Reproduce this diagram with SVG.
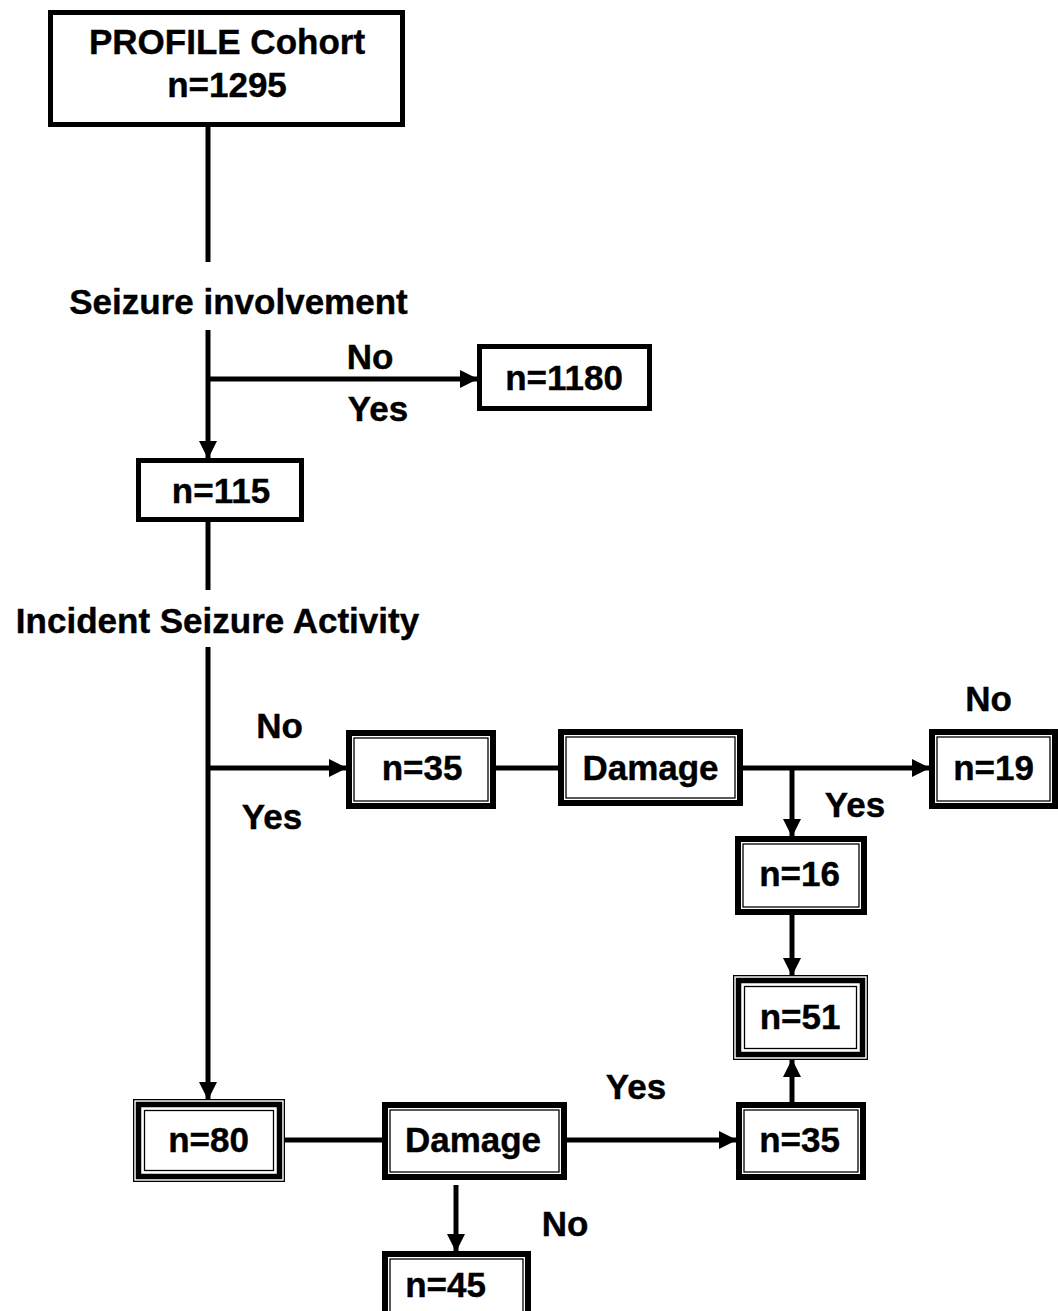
<svg xmlns="http://www.w3.org/2000/svg" width="1058" height="1311" viewBox="0 0 1058 1311">
<style>
text{font-family:"Liberation Sans",Arial,sans-serif;font-weight:bold;font-size:35px;fill:#000;text-anchor:middle;stroke:#000;stroke-width:0.4}
.s{fill:#fff;stroke:#000;stroke-width:5}
.dO{fill:#fff;stroke:#000;stroke-width:6}
.dI{fill:none;stroke:#000;stroke-width:1.3}
.tO{fill:#fff;stroke:#000;stroke-width:1.3}
.tM{fill:none;stroke:#000;stroke-width:5.5}
.ln{fill:none;stroke:#000;stroke-width:5}
</style>
<defs>
<marker id="ar" markerUnits="userSpaceOnUse" markerWidth="18" markerHeight="18" refX="17" refY="9" orient="auto" viewBox="0 0 18 18">
<path d="M0,0 L18,9 L0,18 z" fill="#000"/>
</marker>
</defs>
<rect width="1058" height="1311" fill="#fff"/>
<g id="connectors">
<line class="ln" x1="208" y1="127" x2="208" y2="262"/>
<line class="ln" x1="208" y1="330" x2="208" y2="458" marker-end="url(#ar)"/>
<line class="ln" x1="208" y1="379" x2="477" y2="379" marker-end="url(#ar)"/>
<line class="ln" x1="208" y1="522" x2="208" y2="590"/>
<line class="ln" x1="208" y1="647" x2="208" y2="1099" marker-end="url(#ar)"/>
<line class="ln" x1="208" y1="768" x2="346" y2="768" marker-end="url(#ar)"/>
<line class="ln" x1="496" y1="768" x2="558" y2="768"/>
<line class="ln" x1="743" y1="768" x2="929" y2="768" marker-end="url(#ar)"/>
<line class="ln" x1="792" y1="768" x2="792" y2="836" marker-end="url(#ar)"/>
<line class="ln" x1="792" y1="915" x2="792" y2="975" marker-end="url(#ar)"/>
<line class="ln" x1="792" y1="1102" x2="792" y2="1060" marker-end="url(#ar)"/>
<line class="ln" x1="285" y1="1140" x2="382" y2="1140"/>
<line class="ln" x1="567" y1="1140" x2="736" y2="1140" marker-end="url(#ar)"/>
<line class="ln" x1="456" y1="1185" x2="456" y2="1251" marker-end="url(#ar)"/>
</g>
<g id="labels">
<text x="238.5" y="314">Seizure involvement</text>
<text x="370" y="369">No</text>
<text x="378" y="421">Yes</text>
<text x="217.5" y="633">Incident Seizure Activity</text>
<text x="279.5" y="738">No</text>
<text x="272" y="829">Yes</text>
<text x="988.5" y="711">No</text>
<text x="855" y="817">Yes</text>
<text x="636" y="1099">Yes</text>
<text x="565" y="1236">No</text>
</g>
<g id="n-profile">
<rect class="s" x="50.5" y="12.5" width="352" height="112"/>
<text x="227" y="54">PROFILE Cohort</text>
<text x="227" y="97">n=1295</text>
</g>
<g id="n-1180">
<rect class="s" x="479.5" y="346.5" width="170" height="62"/>
<text x="564" y="390">n=1180</text>
</g>
<g id="n-115">
<rect class="s" x="138.5" y="460.5" width="163" height="59"/>
<text x="221" y="503">n=115</text>
</g>
<g id="n-35a">
<rect class="dO" x="349" y="733" width="144" height="73"/>
<rect class="dI" x="354" y="738" width="134" height="63"/>
<text x="422" y="780">n=35</text>
</g>
<g id="n-damage-a">
<rect class="dO" x="561" y="732" width="179" height="71"/>
<rect class="dI" x="566" y="737" width="169" height="61"/>
<text x="650.5" y="780">Damage</text>
</g>
<g id="n-19">
<rect class="dO" x="932" y="732" width="123" height="74"/>
<rect class="dI" x="937" y="737" width="113" height="64"/>
<text x="993.5" y="780">n=19</text>
</g>
<g id="n-16">
<rect class="dO" x="738" y="839" width="126" height="73"/>
<rect class="dI" x="743" y="844" width="116" height="63"/>
<text x="799.5" y="886">n=16</text>
</g>
<g id="n-51">
<rect class="tO" x="733.65" y="975.65" width="133.7" height="83.7"/>
<rect class="tM" x="738.5" y="980.5" width="124" height="74"/>
<rect class="dI" x="744.5" y="986.5" width="112" height="62"/>
<text x="800" y="1029">n=51</text>
</g>
<g id="n-80">
<rect class="tO" x="133.65" y="1099.65" width="150.7" height="81.7"/>
<rect class="tM" x="138.5" y="1104.5" width="141" height="72"/>
<rect class="dI" x="144.5" y="1110.5" width="129" height="60"/>
<text x="208.5" y="1152">n=80</text>
</g>
<g id="n-damage-b">
<rect class="dO" x="385" y="1105" width="179" height="72"/>
<rect class="dI" x="390" y="1110" width="169" height="62"/>
<text x="473" y="1152">Damage</text>
</g>
<g id="n-35b">
<rect class="dO" x="739" y="1105" width="124" height="72"/>
<rect class="dI" x="744" y="1110" width="114" height="62"/>
<text x="799.5" y="1152">n=35</text>
</g>
<g id="n-45">
<rect class="dO" x="385" y="1254" width="143" height="70"/>
<rect class="dI" x="390" y="1259" width="133" height="70"/>
<text x="445.5" y="1297">n=45</text>
</g>
</svg>
